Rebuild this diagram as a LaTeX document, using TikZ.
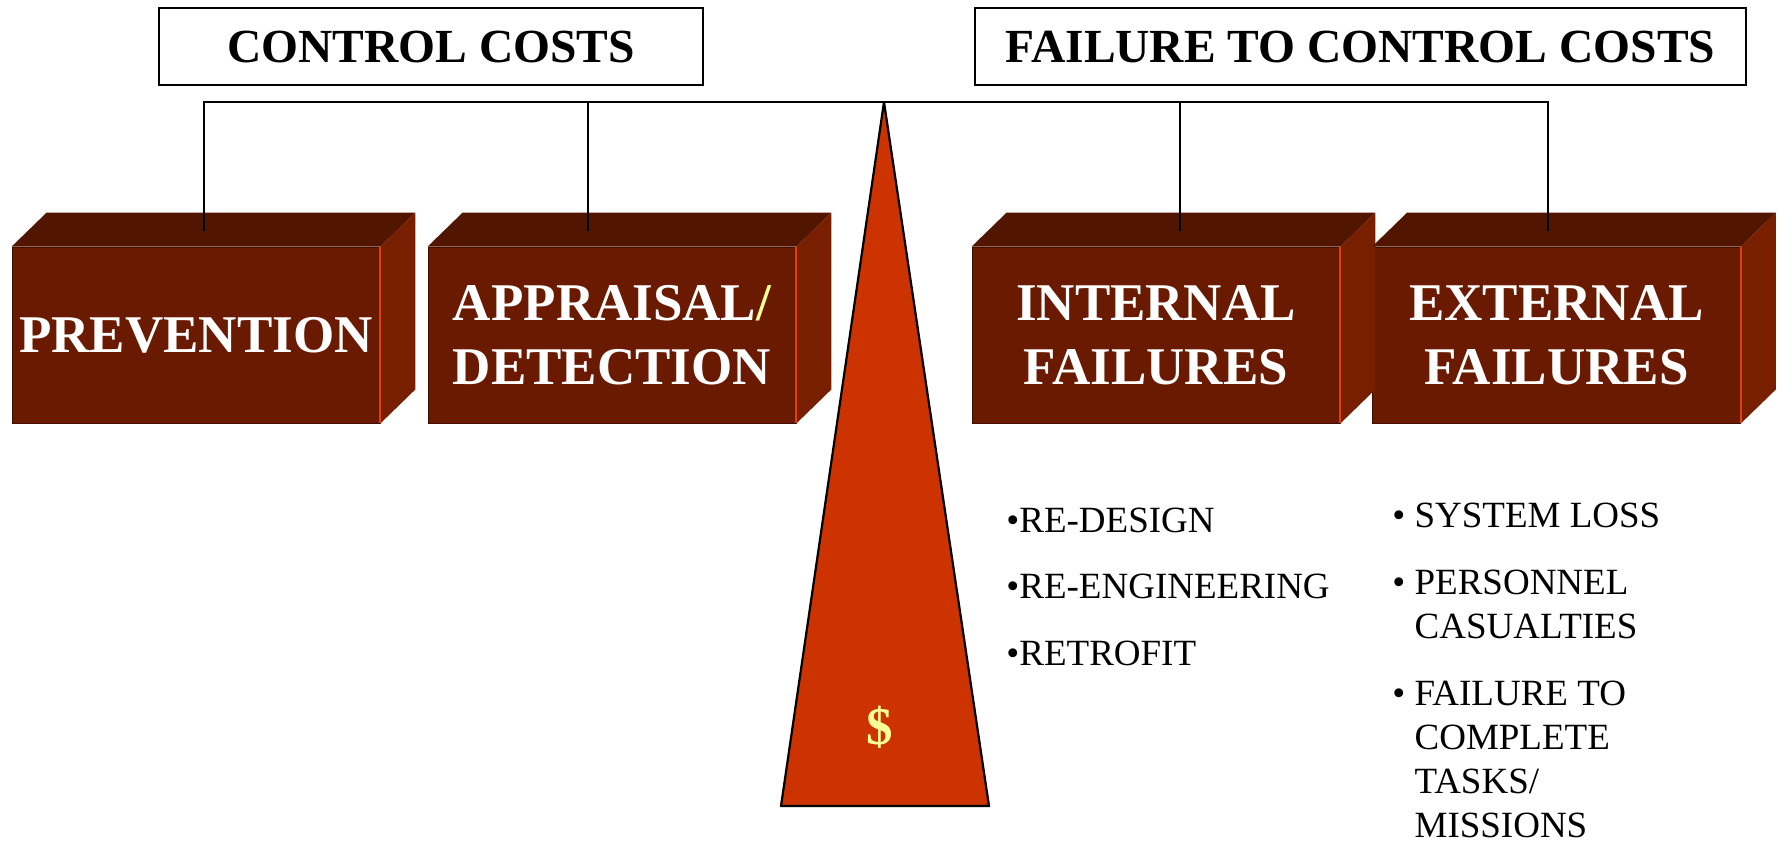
\documentclass[tikz,border=0pt]{standalone}
\usepackage{fontspec}
\setmainfont{Liberation Serif}
\definecolor{brick_front}{RGB}{106,26,0}
\definecolor{brick_top}{RGB}{82,21,0}
\definecolor{brick_side}{RGB}{120,31,0}
\definecolor{brick_dark}{RGB}{66,14,0}
\definecolor{brick_edge}{RGB}{230,64,0}
\definecolor{fulcrum_red}{RGB}{204,51,0}
\definecolor{cash_yellow}{RGB}{255,255,153}

\begin{document}
\begin{tikzpicture}[x=0.5pt, y=-0.5pt]

      \tikzstyle{title_style} = [rectangle, draw=black, line width=0.9pt, minimum height=38.5pt, inner sep=0pt, font=\fontsize{23.75}{28}\selectfont\bfseries]
        \tikzstyle{brick} = [rectangle, fill=brick_front, draw=brick_dark, minimum width=184pt, minimum height=88pt, inner sep=0pt, text=white, align=center, font=\fontsize{26.5}{32}\selectfont\bfseries]
            \tikzstyle{top_face} = [fill=brick_top]
            \tikzstyle{side_face} = [fill=brick_side]
            \tikzstyle{bullets} = [anchor=base west, align=left, inner sep=0pt, font=\fontsize{18.5}{22}\selectfont]

      \useasboundingbox (0,0) rectangle (1778,843);

            \draw
              (431,46.5) node[title_style, minimum width=272pt] (control){CONTROL COSTS}
              (1360.5,46.5) node[title_style, minimum width=385.5pt] (failure){FAILURE TO CONTROL COSTS}
              (196,335) node[brick] (prevention){PREVENTION}
              (612,335) node[brick] (appraisal){APPRAISAL\textcolor{cash_yellow}{/}\\DETECTION}
              (1156,335) node[brick] (internal){INTERNAL\\FAILURES}
              (1556.5,335) node[brick] (external){EXTERNAL\\FAILURES};

      % faces of the bricks
      \foreach \n in {prevention, appraisal, internal, external} {
        \fill[top_face] (\n.north west) -- ++(35,-34) -- ([shift={(35,-34)}]\n.north east) -- (\n.north east) -- cycle;
        \fill[side_face] (\n.north east) -- ++(35,-34) -- ([shift={(35,-34)}]\n.south east) -- (\n.south east) -- cycle;
        \draw[brick_edge, line width=1pt] (\n.north east) -- (\n.south east);
      }

      % fulcrum
      \coordinate (apex) at (884,102);
      \coordinate (base_r) at (989,806);
      \coordinate (base_l) at (781,806);
      \filldraw[fill=fulcrum_red, draw=black, line width=1.1pt, line join=round] (apex) -- (base_r) -- (base_l) -- cycle;
      \node[text=cash_yellow, font=\fontsize{26.5}{32}\selectfont\bfseries] (dollar) at (880,727) {\$};

      % beam
      \coordinate (tab_prev) at (204,231);
      \coordinate (tab_appr) at (588,231);
      \coordinate (tab_intl) at (1180,231);
      \coordinate (tab_extl) at (1548,231);
      \begin{scope}[line width=0.9pt]
        \draw (tab_prev) |- (apex) -| (tab_extl);
        \draw (tab_appr) -- (tab_appr |- apex);
        \draw (tab_intl) -- (tab_intl |- apex);
      \end{scope}

      \node[bullets] (internal_list) at (1006,665) {•RE-DESIGN\\[11.25pt]•RE-ENGINEERING\\[11.25pt]•RETROFIT};
      \node[bullets] (external_list) at (1392,837) {•~SYSTEM LOSS\\[11.5pt]•~PERSONNEL\\\phantom{•~}CASUALTIES\\[11.5pt]•~FAILURE TO\\\phantom{•~}COMPLETE\\\phantom{•~}TASKS/\\\phantom{•~}MISSIONS};
    \end{tikzpicture}
\end{document}
